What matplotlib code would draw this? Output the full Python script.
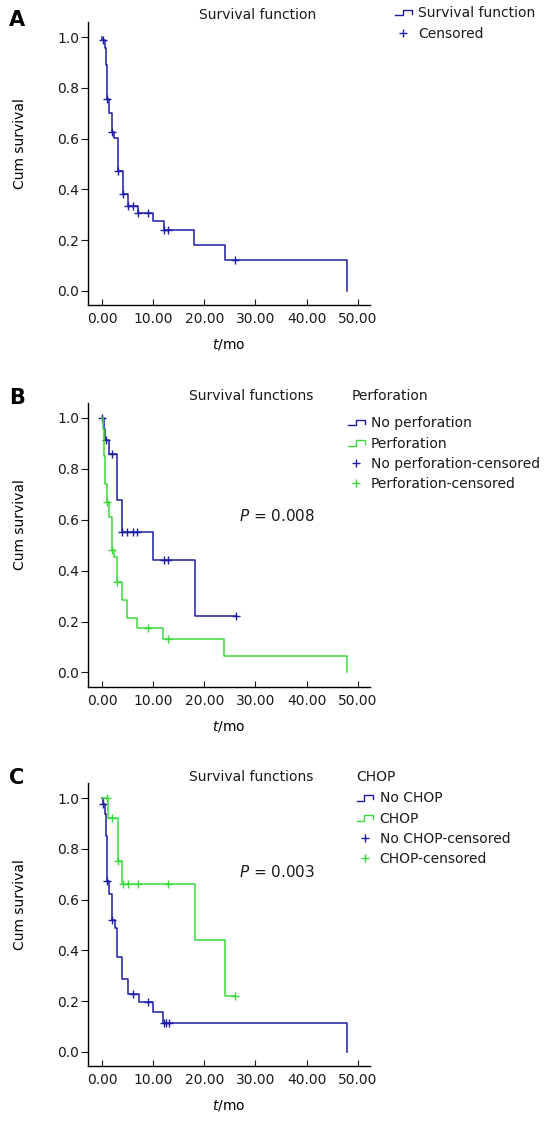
import numpy as np
import matplotlib
matplotlib.use('Agg')
import matplotlib.pyplot as plt
from matplotlib.lines import Line2D
from matplotlib.legend_handler import HandlerBase

# ---- data (months, cumulative survival) ----
# Panel A: all patients
a_event_t = [0.0, 0.4, 0.6, 0.8, 0.9, 1.3, 1.95, 2.35, 3.05, 4.0, 5.1, 7.0, 9.9, 12.0, 18.0, 24.0, 48.0]
a_surv = [0.99, 0.958, 0.892, 0.812, 0.758, 0.701, 0.626, 0.602, 0.474, 0.383, 0.334, 0.306, 0.274, 0.239, 0.179, 0.121, 0.0]
a_cens_t = [0.1, 0.95, 1.95, 3.05, 4.0, 5.1, 6.0, 7.0, 9.0, 12.0, 12.85, 26.0]
a_end = 48.0

# Panel B: no perforation / perforation
b_no_event_t = [0.3, 0.5, 1.35, 2.9, 3.9, 10.0, 18.1]
b_no_surv = [0.957, 0.914, 0.860, 0.676, 0.553, 0.443, 0.223]
b_no_cens_t = [0.0, 0.7, 1.9, 3.9, 4.9, 5.9, 6.8, 12.0, 12.85, 26.1]
b_no_end = 26.1

b_yes_event_t = [0.1, 0.35, 0.55, 0.8, 1.35, 1.9, 2.25, 2.8, 3.9, 4.85, 6.8, 11.9, 23.9, 48.0]
b_yes_surv = [0.957, 0.849, 0.741, 0.669, 0.61, 0.483, 0.453, 0.355, 0.286, 0.215, 0.176, 0.132, 0.066, 0.0]
b_yes_cens_t = [0.95, 1.95, 2.85, 9.0, 12.85]
b_yes_end = 48.0

# Panel C: no CHOP / CHOP
c_no_event_t = [0.1, 0.45, 0.6, 0.8, 0.9, 1.35, 1.95, 2.45, 2.9, 3.9, 5.1, 7.1, 9.95, 11.9, 48.0]
c_no_surv = [0.977, 0.938, 0.85, 0.741, 0.672, 0.624, 0.518, 0.489, 0.375, 0.288, 0.229, 0.198, 0.158, 0.115, 0.0]
c_no_cens_t = [0.1, 0.95, 1.95, 6.0, 9.0, 12.0, 12.5, 13.0]
c_no_end = 48.0

c_yes_event_t = [1.15, 3.1, 3.9, 18.1, 24.1]
c_yes_surv = [0.922, 0.754, 0.662, 0.439, 0.221]
c_yes_cens_t = [0.95, 1.85, 3.1, 3.95, 5.05, 7.0, 12.9, 26.0]
c_yes_end = 26.0

x_ticks = [0, 10, 20, 30, 40, 50]
y_ticks = [0.0, 0.2, 0.4, 0.6, 0.8, 1.0]

BLUE = '#1c1ca6'
GREEN = '#3dd83d'
TXT = '#1a1a1a'
FS = 10

plt.rcParams['font.family'] = ['DejaVu Sans']
plt.rcParams['text.color'] = TXT


class StepHandler(HandlerBase):
    # little step glyph like the SPSS legend
    def create_artists(self, legend, orig_handle, xdescent, ydescent,
                       width, height, fontsize, trans):
        x0, y0 = -xdescent, -ydescent
        xs = x0 + width * np.array([0.0, 0.45, 0.45, 1.0, 1.0])
        ys = y0 + height * np.array([0.2, 0.2, 0.75, 0.75, 0.35])
        line = Line2D(xs, ys, color=orig_handle.get_color(), lw=1.0)
        line.set_transform(trans)
        return [line]


def plot_km(ax, event_t, surv, cens_t, end, color):
    event_t = np.asarray(event_t)
    surv = np.asarray(surv)
    xs = np.r_[0.0, event_t, end]
    ys = np.r_[1.0, surv, surv[-1]]
    ax.step(xs, ys, where='post', color=color, lw=1.1)
    idx = np.searchsorted(event_t, cens_t, side='right') - 1
    cy = np.where(idx < 0, 1.0, surv[np.clip(idx, 0, None)])
    ax.plot(cens_t, cy, ls='none', marker='+', ms=6, mew=1.0, color=color)


def style_axes(ax):
    ax.set_xlim(-2.84, 52.45)
    ax.set_ylim(-0.056, 1.06)
    ax.set_xticks(x_ticks)
    ax.set_xticklabels(['%.2f' % v for v in x_ticks])
    ax.set_yticks(y_ticks)
    ax.set_yticklabels(['%.1f' % v for v in y_ticks])
    for s in ['top', 'right']:
        ax.spines[s].set_visible(False)
    for s in ['left', 'bottom']:
        ax.spines[s].set_linewidth(1.0)
    ax.tick_params(axis='y', direction='out', length=5, width=0.8, pad=1.5, labelsize=FS, colors=TXT)
    ax.tick_params(axis='x', direction='in', length=4.5, width=0.8, pad=5, labelsize=FS, colors=TXT)
    ax.set_xlabel(r'$t$/mo', fontsize=FS, labelpad=8)
    ax.set_ylabel('Cum survival', fontsize=FS)
    ax.yaxis.set_label_coords(-0.215, 0.57)


def add_legend(ax, labels, colors, x, y):
    steps = [Line2D([], [], color=c) for c in colors]
    marks = [Line2D([], [], color=c, marker='+', ls='none', ms=6, mew=1.0) for c in colors]
    handles = steps + marks
    hmap = {h: StepHandler() for h in steps}
    leg = ax.legend(handles, labels, handler_map=hmap, loc='upper left',
                    bbox_to_anchor=(x, y), frameon=False, fontsize=FS,
                    handlelength=1.2, handletextpad=0.45, labelspacing=0.45,
                    borderpad=0, borderaxespad=0)
    leg.set_clip_on(False)


fig = plt.figure(figsize=(5.48, 11.22), dpi=100)
W, H = 548.0, 1122.0
axA = fig.add_axes([88 / W, (H - 305) / H, 282 / W, 283 / H])
axB = fig.add_axes([88 / W, (H - 686.7) / H, 282 / W, 284 / H])
axC = fig.add_axes([88 / W, (H - 1066) / H, 282 / W, 283 / H])

# Panel A
plot_km(axA, a_event_t, a_surv, a_cens_t, a_end, BLUE)
style_axes(axA)
axA.text(0.603, 1.025, 'Survival function', transform=axA.transAxes,
         ha='center', va='center', fontsize=FS)
add_legend(axA, ['Survival function', 'Censored'], [BLUE], 1.089, 1.055)

# Panel B
plot_km(axB, b_no_event_t, b_no_surv, b_no_cens_t, b_no_end, BLUE)
plot_km(axB, b_yes_event_t, b_yes_surv, b_yes_cens_t, b_yes_end, GREEN)
style_axes(axB)
axB.text(0.58, 1.024, 'Survival functions', transform=axB.transAxes,
         ha='center', va='center', fontsize=FS)
axB.text(0.935, 1.024, 'Perforation', transform=axB.transAxes,
         ha='left', va='center', fontsize=FS)
axB.text(0.536, 0.602, r'$P$ = 0.008', transform=axB.transAxes,
         ha='left', va='center', fontsize=11)
add_legend(axB, ['No perforation', 'Perforation', 'No perforation-censored',
                 'Perforation-censored'], [BLUE, GREEN], 0.922, 0.952)

# Panel C
plot_km(axC, c_no_event_t, c_no_surv, c_no_cens_t, c_no_end, BLUE)
plot_km(axC, c_yes_event_t, c_yes_surv, c_yes_cens_t, c_yes_end, GREEN)
style_axes(axC)
axC.text(0.58, 1.021, 'Survival functions', transform=axC.transAxes,
         ha='center', va='center', fontsize=FS)
axC.text(0.953, 1.021, 'CHOP', transform=axC.transAxes,
         ha='left', va='center', fontsize=FS)
axC.text(0.536, 0.685, r'$P$ = 0.003', transform=axC.transAxes,
         ha='left', va='center', fontsize=11)
add_legend(axC, ['No CHOP', 'CHOP', 'No CHOP-censored', 'CHOP-censored'],
           [BLUE, GREEN], 0.953, 0.97)

# panel letters
for lab, yy in [('A', 20), ('B', 398), ('C', 778)]:
    fig.text(17 / W, 1 - yy / H, lab, fontsize=15, fontweight='bold',
             ha='center', va='center', color='black')

fig.savefig('out.png', dpi=100)
